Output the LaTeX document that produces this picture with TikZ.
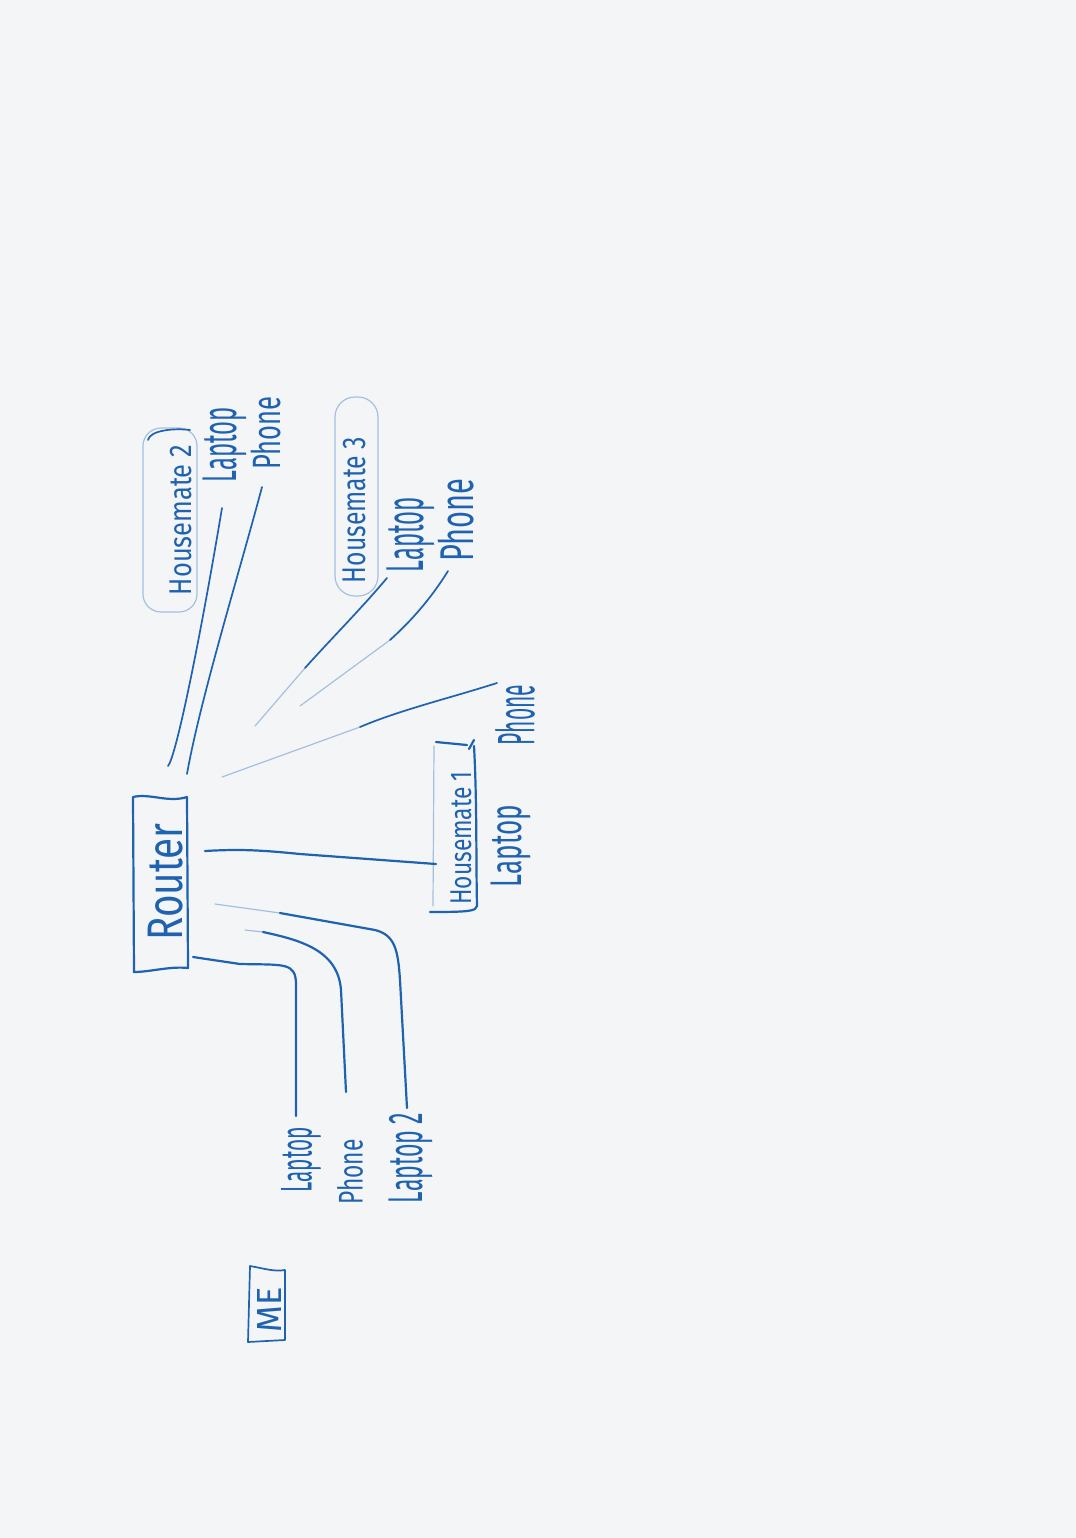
\documentclass[tikz,border=0pt]{standalone}
\usepackage{fontspec}
\setsansfont{Fira Sans}
\usepackage{graphicx}
\definecolor{pen}{HTML}{1E62B0}
\definecolor{paper}{HTML}{F4F5F7}
% word stretched to a given length and thickness
\newcommand{\hw}[3]{\resizebox*{#1}{#2}{#3}}
\begin{document}
\begin{tikzpicture}[x=0.5pt,y=-0.5pt,
  ink/.style={draw=pen, line width=1.1pt, line cap=round, line join=round},
  thinink/.style={draw=pen, line width=0.85pt, line cap=round, line join=round},
  faint/.style={draw=pen!40, line width=0.6pt, line cap=round},
  word/.style={text=pen, rotate=90, inner sep=0pt, font=\sffamily},
]
\fill[paper] (0,0) rectangle (1076,1538);
\useasboundingbox (0,0) rectangle (1076,1538);

% ---- words ----
\node[word] (router) at (166,882) {\hw{58.5pt}{17.5pt}{Router}};
\node[word] (hm1)    at (461,838) {\hw{66.5pt}{10.5pt}{Housemate 1}};
\node[word] (hm1lap) at (511,846) {\hw{41pt}{20pt}{Laptop}};
\node[word] (hm1ph)  at (515,715) {\hw{30pt}{20pt}{Phone}};
\node[word] (hm2)    at (181,520) {\hw{75pt}{11pt}{Housemate 2}};
\node[word] (hm2lap) at (225,445) {\hw{37.5pt}{22pt}{Laptop}};
\node[word] (hm2ph)  at (266,433) {\hw{36.5pt}{15pt}{Phone}};
\node[word] (hm3)    at (354,510) {\hw{73pt}{11.5pt}{Housemate 3}};
\node[word] (hm3lap) at (411,535) {\hw{37.5pt}{24pt}{Laptop}};
\node[word] (hm3ph)  at (456,520) {\hw{41.5pt}{18pt}{Phone}};
\node[word] (mylap)  at (301,1160) {\hw{32.5pt}{20pt}{Laptop}};
\node[word] (myph)   at (350,1172) {\hw{32.5pt}{13pt}{Phone}};
\node[word] (mylap2) at (411,1158) {\hw{45pt}{22pt}{Laptop 2}};
\node[word] (me)     at (269,1310) {\hw{22.5pt}{12pt}{ME}};

% ---- boxes ----
% router
\draw[ink] (133,797) .. controls (150,793) and (168,803) .. (187,797)
  -- (188,968) .. controls (170,966) and (150,972) .. (134,972) -- cycle;
% housemate 1
\draw[faint] (434,746) -- (433,906);
\draw[ink] (436,742) -- (467,745);
\draw[ink] (469,749) -- (474,740);
\draw[ink] (474,746) .. controls (477,800) and (476,860) .. (477,906)
  .. controls (476,911) and (470,912) .. (430,912);
% housemate 2
\draw[faint, rounded corners=9pt] (143,428) rectangle (197,612);
\draw[thinink] (148,440) .. controls (150,430) and (175,428) .. (190,430);
% housemate 3
\draw[faint, rounded corners=10pt] (335,397) rectangle (378,596);
% me
\draw[thinink] (250,1266) .. controls (262,1268) and (274,1272) .. (285,1270)
  -- (285,1340) -- (248,1342) -- cycle;

% ---- connectors ----
\coordinate (r1) at (168,766);  \coordinate (e1) at (222,508);
\coordinate (r2) at (187,774);  \coordinate (e2) at (262,487);
\coordinate (r3) at (255,726);  \coordinate (m3) at (305,668); \coordinate (e3) at (387,578);
\coordinate (r4) at (300,706);  \coordinate (m4) at (390,640); \coordinate (e4) at (448,571);
\coordinate (r5) at (222,777);  \coordinate (m5) at (360,727); \coordinate (e5) at (497,683);
\coordinate (r6) at (205,851);  \coordinate (e6) at (436,864);
\coordinate (r7) at (193,957);  \coordinate (e7) at (296,1116);
\coordinate (r8) at (263,932);  \coordinate (e8) at (346,1092);
\coordinate (r9) at (215,904);  \coordinate (m9) at (280,913); \coordinate (e9) at (407,1108);

% housemate 2 devices
\draw[thinink] (r1) .. controls (176,757) and (200,640) .. (e1);
\draw[thinink] (r2) .. controls (200,700) and (240,570) .. (e2);
% housemate 3 devices
\draw[faint] (r3) -- (m3);
\draw[thinink] (m3) .. controls (330,640) and (360,610) .. (e3);
\draw[faint] (r4) -- (m4);
\draw[thinink] (m4) .. controls (410,622) and (430,600) .. (e4);
% housemate 1 phone
\draw[faint] (r5) -- (m5);
\draw[thinink] (m5) .. controls (400,710) and (450,698) .. (e5);
% housemate 1
\draw[ink] (r6) .. controls (240,849) and (260,850) .. (300,854) -- (e6);
% my devices
\draw[ink] (r7) -- (240,964) .. controls (285,965) and (296,962) .. (296,985) -- (e7);
\draw[faint] (245,930) -- (r8);
\draw[ink] (r8) .. controls (300,940) and (338,950) .. (341,990) -- (e8);
\draw[faint] (r9) -- (m9);
\draw[ink] (m9) -- (375,930) .. controls (395,935) and (398,950) .. (400,980) -- (e9);
\end{tikzpicture}
\end{document}
